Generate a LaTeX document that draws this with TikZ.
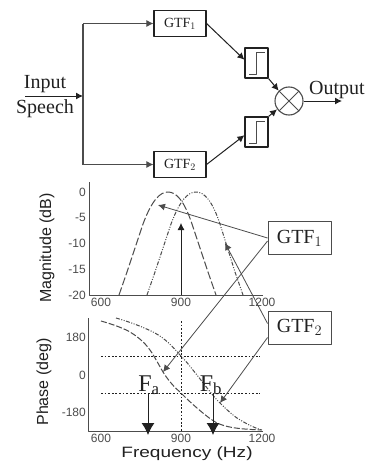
\documentclass[tikz,border=0pt]{standalone}
\usepackage{fontspec}
\setmainfont{Liberation Serif}
\newfontfamily\axisfont{Liberation Sans}
\newfontfamily\wideaxis[FakeStretch=1.27]{Liberation Sans}
\usetikzlibrary{arrows.meta}
\definecolor{ink}{gray}{0.13}
\definecolor{soft}{gray}{0.3}
\tikzset{
  x=1pt,y=-1pt,
  every path/.style={line join=round},
  blockbox/.style={draw=ink,line width=1.1pt,fill=white,minimum width=52pt,minimum height=25.5pt,inner sep=0pt,font=\fontsize{14}{16}\selectfont,text=ink},
  stepbox/.style={draw=ink,line width=1.1pt,fill=white,minimum width=23pt,minimum height=30pt,inner sep=0pt},
  mixnode/.style={draw=soft,line width=1.1pt,circle,minimum size=28pt,inner sep=0pt,
    path picture={\draw[soft,line width=1pt] (path picture bounding box.north west) -- (path picture bounding box.south east)
      (path picture bounding box.north east) -- (path picture bounding box.south west);}},
  labelbox/.style={draw=soft,line width=.9pt,fill=white,minimum width=63pt,minimum height=33pt,inner sep=0pt,font=\fontsize{20}{22}\selectfont,text=ink},
  flow/.style={draw=ink,line width=1pt,-{Latex[length=7pt,width=7pt]}},
  feed/.style={draw=soft,line width=1.1pt},
  thin callout/.style={draw=soft,line width=.8pt,-{Latex[length=7pt,width=7pt]}},
  axisline/.style={draw=soft,line width=.9pt},
  tick/.style={font=\axisfont\fontsize{12}{14}\selectfont,text=soft,inner sep=0pt},
  axtitle/.style={font=\axisfont\fontsize{16}{18}\selectfont,text=ink,inner sep=0pt},
  word/.style={font=\fontsize{20}{22}\selectfont,text=ink,inner sep=0pt},
  curveA/.style={draw=soft,line width=1pt,dash pattern=on 8pt off 2.5pt},
  curveB/.style={draw=soft,line width=1pt,dash pattern=on 4pt off 1.5pt on 1pt off 1.5pt on 1pt off 1.5pt},
  guide/.style={draw=ink,line width=.7pt,dash pattern=on 1.8pt off 1.8pt},
  bigdown/.style={draw=ink,line width=1pt,-{Latex[length=12pt,width=13pt]}},
}
\begin{document}
\begin{tikzpicture}
\useasboundingbox (0,0) rectangle (368,463);
\fill[white] (0,0) rectangle (368,463);
% ---- block diagram
\node[blockbox] (g1) at (180,23.5) {GTF$_1$};
\node[blockbox] (g2) at (180,164.5) {GTF$_2$};
\node[stepbox] (s1) at (256.5,63) {};
\node[stepbox] (s2) at (256.5,132) {};
\node[mixnode] (mix) at (289,101) {};
\draw[soft,line width=1pt] (249,74.5) -- (256,74.5) -- (256,52.5) -- (265,52.5);
\draw[soft,line width=1pt] (249,143.5) -- (256,143.5) -- (256,121.5) -- (265,121.5);
\coordinate (inS) at (25,96);
\coordinate (split) at (83,96);
\coordinate (outE) at (342,101);
\node[word,anchor=base] (tin) at (45,88) {Input};
\node[word,anchor=base] (tsp) at (45,113) {Speech};
\node[word,anchor=base] (tout) at (337,94) {Output};
\draw[flow] (inS) -- (split);
\draw[feed] (g1.west -| split) -- (g2.west -| split);
\draw[flow,draw=soft] (g1.west -| split) -- (g1.west);
\draw[flow,draw=soft] (g2.west -| split) -- (g2.west);
\draw[flow] (g1.east) -- (s1.165);
\draw[flow] (g2.east) -- (s2.195);
\draw[flow] (s1.south east) -- (mix.135);
\draw[flow] (s2.north east) -- (mix.215);
\draw[flow] (mix.east) -- (outE);
% ---- magnitude plot
\draw[axisline] (89,182) -- (89,295) -- (263,295);
\foreach \v/\y in {0/192,-5/217,-10/243,-15/269,-20/295}
  \node[tick,anchor=east] at (86,\y) {\v};
\foreach \v/\x in {600/101,900/181,1200/262}
  \node[tick] at (\x,302) {\v};
\node[axtitle,rotate=90] (magt) at (47,248) {Magnitude (dB)};
\draw[curveA] (119,295) -- (127,272) -- (143,224) .. controls (152,200) and (160,192) .. (168,192) .. controls (176,192) and (184,200) .. (192,224) -- (208,272) -- (216,295);
\draw[curveB] (147,295) -- (155,272) -- (171,224) .. controls (180,200) and (188,192) .. (196,192) .. controls (204,192) and (212,200) .. (220,224) -- (235,272) -- (243,295);
\coordinate (riseS) at (181,295);
\coordinate (riseE) at (181,223);
\draw[thin callout,draw=ink] (riseS) -- (riseE);
% ---- phase plot
\draw[axisline] (88,318) -- (88,431) -- (263,431);
\foreach \v/\y in {180/337,0/375,-180/412}
  \node[tick,anchor=east] at (86,\y) {\v};
\foreach \v/\x in {600/101,900/181,1200/262}
  \node[tick] at (\x,438) {\v};
\node[axtitle,rotate=90] (phat) at (44,382) {Phase (deg)};
\node[axtitle,font=\wideaxis\fontsize{15}{17}\selectfont] (freqt) at (187,453.5) {Frequency (Hz)};
\draw[guide] (181,321) -- (181,431);
\draw[guide] (101,356) -- (260,356);
\draw[guide] (101,393) -- (260,393);
\draw[curveA,dash pattern=on 6pt off 2pt] (101,321) .. controls (115,325) and (125,329) .. (130,332) .. controls (140,338) and (147,345) .. (152,353) .. controls (157,361) and (160,367) .. (163,372) .. controls (168,380) and (174,387) .. (180,392) .. controls (186,398) and (191,403) .. (197,408) .. controls (204,414) and (210,419) .. (217,423) .. controls (226,427) and (236,429) .. (262,430);
\draw[curveB] (116,318) .. controls (130,322) and (143,327) .. (153,332) .. controls (165,338) and (173,347) .. (180,355) .. controls (187,362) and (192,369) .. (197,375) .. controls (204,384) and (210,392) .. (217,400) .. controls (224,407) and (230,413) .. (237,418) .. controls (245,423) and (254,428) .. (262,430);
\node[word,font=\fontsize{24}{26}\selectfont,anchor=base] (fa) at (149,391) {F$_{\mathrm a}$};
\node[word,font=\fontsize{24}{26}\selectfont,anchor=base] (fb) at (211,391) {F$_{\mathrm b}$};
\coordinate (faS) at (148,394);
\coordinate (faE) at (148,435);
\coordinate (fbS) at (213,394);
\coordinate (fbE) at (213,435);
\draw[bigdown] (faS) -- (faE);
\draw[bigdown] (fbS) -- (fbE);
% ---- callouts
\node[labelbox] (l1) at (299.5,238) {GTF$_1$};
\node[labelbox] (l2) at (299.5,327.5) {GTF$_2$};
\coordinate (c1a) at (158,205);
\coordinate (c1b) at (163,372);
\coordinate (c2a) at (225,243);
\coordinate (c2b) at (220,403);
\draw[thin callout] (l1.west) -- (c1a);
\draw[thin callout] ([yshift=-3pt]l1.west) -- (c1b);
\draw[thin callout] ([yshift=4pt]l2.west) -- (c2a);
\draw[thin callout] ([yshift=-10pt]l2.west) -- (c2b);
\end{tikzpicture}
\end{document}
